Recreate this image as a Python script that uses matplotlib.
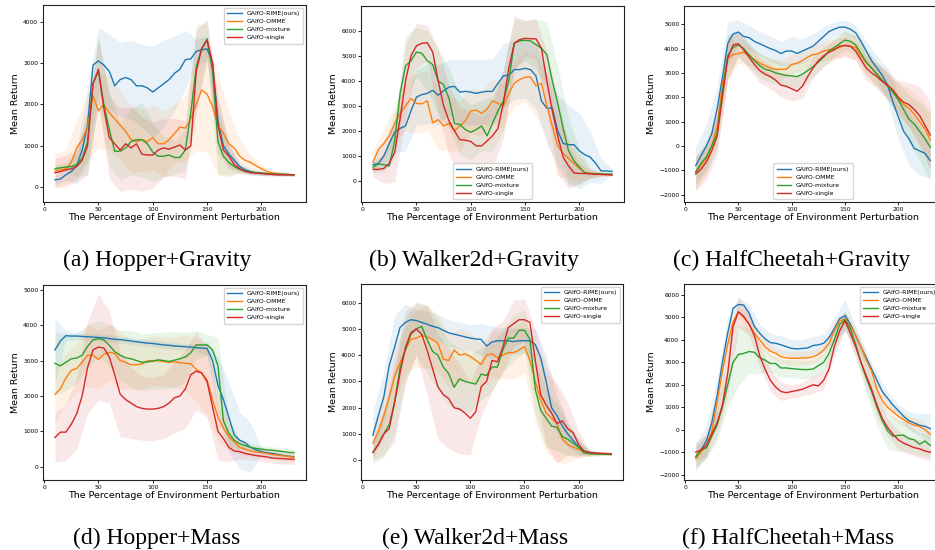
import numpy as np
import matplotlib
matplotlib.use('Agg')
import matplotlib.pyplot as plt

# perturbation levels (%) for the mean curves and for the shaded std bands
x = np.arange(10, 235, 5)
xb = np.arange(10, 235, 10)

methods = ['GAIfO-RIME(ours)', 'GAIfO-OMME', 'GAIfO-mixture', 'GAIfO-single']
colors = ['C0', 'C1', 'C2', 'C3']

# ---------------- Hopper + Gravity ----------------
hg_rime = [180, 200, 300, 380, 520, 900, 1500, 2950, 3050, 2950, 2800, 2450, 2600, 2650, 2600,
           2450, 2450, 2400, 2300, 2400, 2500, 2600, 2750, 2850, 3080, 3100, 3280, 3320, 3340, 3000,
           1600, 1000, 800, 650, 500, 420, 380, 350, 340, 330, 320, 310, 310, 305, 300]
hg_omme = [400, 420, 450, 600, 950, 1150, 1450, 2200, 1850, 2000, 1800, 1650, 1500, 1350, 1150,
           1100, 1150, 1100, 1200, 1050, 1050, 1150, 1300, 1450, 1430, 1650, 2000, 2350, 2250, 1950,
           1500, 1300, 1050, 950, 750, 650, 600, 520, 450, 380, 350, 330, 320, 310, 300]
hg_mix = [450, 470, 490, 500, 550, 700, 1100, 2500, 2800, 2000, 1400, 870, 870, 950, 1100,
          1150, 1150, 1050, 850, 750, 750, 780, 720, 720, 900, 1800, 2900, 3350, 3580, 2800,
          1100, 750, 600, 500, 430, 390, 370, 350, 340, 330, 320, 320, 310, 310, 300]
hg_single = [350, 380, 420, 450, 500, 650, 1000, 2500, 2850, 1900, 1200, 1050, 900, 1050, 950,
             1050, 800, 780, 780, 900, 950, 920, 970, 1020, 900, 1000, 2800, 3350, 3550, 3000,
             1500, 900, 750, 550, 450, 380, 350, 340, 330, 320, 310, 300, 300, 300, 300]
hg_rime_sd = [100, 150, 400, 900, 800, 900, 900, 950, 1000, 1100, 1050, 900, 700, 300, 300, 500,
              300, 100, 60, 50, 40, 30, 30]
hg_omme_sd = [400, 450, 700, 800, 900, 900, 800, 800, 750, 800, 800, 700, 800, 1100, 1400, 1200,
              800, 400, 200, 100, 60, 40, 30]
hg_mix_sd = [100, 100, 300, 800, 800, 900, 700, 800, 900, 700, 500, 400, 500, 1000, 400, 800,
             300, 100, 60, 50, 40, 30, 30]
hg_single_sd = [350, 350, 400, 700, 800, 1000, 1000, 1000, 900, 800, 700, 700, 700, 1000, 500, 700,
                300, 100, 60, 50, 40, 30, 30]

# ---------------- Walker2d + Gravity ----------------
wg_rime = [650, 700, 1000, 1500, 1950, 2100, 2200, 2800, 3350, 3450, 3500, 3620, 3430, 3600, 3750,
           3780, 3550, 3580, 3550, 3500, 3550, 3580, 3580, 3900, 4200, 4220, 4450, 4450, 4500, 4450,
           4200, 3200, 2900, 2920, 2000, 1500, 1450, 1450, 1200, 1050, 950, 700, 400, 400, 380]
wg_omme = [750, 1250, 1500, 1800, 2300, 2700, 3000, 3300, 3100, 3080, 3200, 2320, 2450, 2200, 2300,
           2000, 2200, 2400, 2800, 2830, 2700, 2870, 3200, 3100, 3000, 3500, 3900, 4050, 4150, 4150,
           3800, 3900, 3000, 2200, 1400, 1100, 900, 700, 500, 350, 300, 280, 270, 260, 250]
wg_mix = [550, 680, 650, 600, 1600, 3500, 4600, 4800, 5150, 5100, 4800, 4650, 4000, 3850, 3300,
          2300, 2250, 2050, 1950, 2050, 2200, 1800, 2300, 2800, 3200, 4000, 5500, 5600, 5620, 5600,
          5450, 5300, 5050, 4000, 3100, 2100, 1200, 800, 550, 320, 300, 290, 280, 280, 270]
wg_single = [470, 460, 500, 700, 1150, 2500, 4000, 5000, 5400, 5500, 5520, 5150, 4000, 3000, 2400,
             2000, 1650, 1630, 1580, 1400, 1400, 1600, 1800, 2100, 3100, 4500, 5500, 5650, 5700, 5680,
             5680, 5300, 4000, 2800, 1800, 950, 600, 320, 300, 300, 280, 270, 260, 250, 240]
wg_rime_sd = [300, 500, 800, 1000, 1100, 1200, 1200, 1100, 1300, 1300, 1300, 1300, 1300, 1200, 1200,
              1300, 1400, 1400, 1600, 1500, 1000, 500, 100]
wg_omme_sd = [500, 600, 700, 1000, 1200, 1200, 1200, 1100, 1000, 900, 900, 900, 900, 900, 1000, 1200,
              1300, 1200, 800, 500, 200, 100, 50]
wg_mix_sd = [200, 300, 700, 1200, 1000, 1200, 1300, 1200, 1200, 1100, 1000, 1100, 1200, 1000, 800,
             1000, 1300, 1500, 1300, 700, 200, 80, 50]
wg_single_sd = [300, 600, 1200, 1500, 900, 700, 1300, 1400, 1300, 1200, 1200, 1300, 1400, 1100, 700,
                800, 1200, 1500, 900, 400, 150, 60, 40]

# ---------------- HalfCheetah + Gravity ----------------
cg_rime = [-800, -400, 0, 500, 1500, 2800, 4200, 4600, 4680, 4500, 4450, 4300, 4200, 4100, 4000,
           3920, 3800, 3900, 3900, 3800, 3900, 4000, 4100, 4300, 4500, 4700, 4800, 4880, 4880, 4800,
           4650, 4300, 3900, 3500, 3200, 2900, 2500, 1800, 1200, 600, 300, -100, -200, -300, -600]
cg_omme = [-1100, -800, -500, 0, 800, 2500, 3600, 3750, 3800, 3850, 3700, 3550, 3400, 3300, 3200,
           3150, 3150, 3150, 3350, 3400, 3500, 3650, 3750, 3800, 3900, 3950, 4000, 4050, 4150, 4100,
           4050, 3700, 3400, 3200, 2950, 2700, 2500, 2250, 1950, 1700, 1550, 1300, 1000, 700, 250]
cg_mix = [-1050, -700, -450, 0, 500, 2200, 3700, 4050, 4150, 4000, 3750, 3500, 3300, 3150, 3100,
          3000, 2950, 2900, 2880, 2850, 2950, 3100, 3250, 3450, 3650, 3900, 4050, 4200, 4350, 4300,
          4150, 3800, 3450, 3200, 2950, 2700, 2450, 2200, 1900, 1500, 1100, 900, 600, 300, -50]
cg_single = [-1150, -950, -650, -200, 400, 2000, 3600, 4150, 4200, 3950, 3650, 3350, 3100, 2950, 2850,
             2700, 2500, 2450, 2350, 2250, 2450, 2850, 3200, 3500, 3700, 3850, 3950, 4100, 4120, 4100,
             3900, 3550, 3200, 3000, 2850, 2650, 2500, 2300, 2000, 1800, 1700, 1500, 1250, 850, 450]
cg_rime_sd = [800, 900, 900, 900, 500, 500, 500, 500, 500, 600, 500, 500, 400, 300, 300, 300,
              400, 500, 700, 900, 1100, 1000, 700]
cg_omme_sd = [700, 700, 700, 900, 400, 400, 400, 400, 400, 400, 400, 400, 400, 400, 500, 500,
              500, 500, 500, 600, 800, 1000, 1200]
cg_mix_sd = [600, 600, 700, 900, 500, 500, 500, 500, 500, 500, 500, 400, 400, 400, 400, 400,
             500, 500, 500, 700, 1000, 1200, 1400]
cg_single_sd = [700, 700, 800, 900, 500, 500, 500, 500, 500, 500, 500, 400, 400, 400, 400, 400,
                500, 500, 600, 700, 900, 1200, 1400]

# ---------------- Hopper + Mass ----------------
hm_rime = [3300, 3550, 3700, 3690, 3690, 3680, 3670, 3660, 3650, 3640, 3620, 3600, 3590, 3570, 3550,
           3530, 3510, 3490, 3480, 3460, 3440, 3430, 3410, 3400, 3390, 3380, 3360, 3350, 3340, 3000,
           2300, 1900, 1400, 900, 750, 680, 550, 480, 430, 400, 380, 350, 320, 300, 280]
hm_omme = [2050, 2200, 2500, 2720, 2780, 2950, 3150, 3150, 3030, 3180, 3230, 3200, 3000, 2950, 2880,
           2880, 2900, 2990, 3000, 2990, 2970, 2950, 2960, 2940, 2920, 2910, 2750, 2650, 2450, 1900,
           1400, 1100, 850, 700, 550, 500, 450, 420, 400, 380, 350, 330, 310, 290, 270]
hm_mix = [2920, 2850, 2950, 3050, 3070, 3150, 3400, 3580, 3620, 3580, 3430, 3250, 3150, 3080, 3050,
          3000, 2950, 2960, 2980, 3020, 3000, 2970, 3010, 3050, 3100, 3220, 3440, 3440, 3440, 3300,
          2850, 1300, 950, 750, 650, 600, 550, 520, 500, 480, 470, 450, 430, 410, 400]
hm_single = [830, 980, 980, 1200, 1500, 2000, 2800, 3300, 3380, 3350, 3100, 2600, 2050, 1900, 1800,
             1700, 1650, 1630, 1630, 1650, 1700, 1800, 1950, 2000, 2200, 2600, 2700, 2650, 2400, 1700,
             1000, 800, 550, 450, 430, 380, 350, 320, 300, 280, 250, 240, 230, 220, 210]
hm_rime_sd = [900, 150, 100, 100, 100, 100, 100, 100, 100, 100, 100, 100, 100, 100, 200, 800,
              1000, 800, 700, 100, 80, 60, 50]
hm_omme_sd = [800, 700, 700, 900, 800, 800, 800, 700, 700, 700, 700, 700, 800, 900, 1000, 700,
              400, 200, 150, 150, 150, 150, 150]
hm_mix_sd = [900, 800, 700, 600, 500, 600, 700, 800, 800, 800, 800, 800, 700, 400, 300, 800,
             400, 150, 100, 100, 100, 100, 100]
hm_single_sd = [700, 800, 1000, 1300, 1500, 1300, 1200, 1000, 900, 900, 900, 1000, 1100, 1100, 1000, 800,
                400, 200, 150, 150, 150, 150, 150]

# ---------------- Walker2d + Mass ----------------
wm_rime = [950, 1700, 2400, 3600, 4300, 5050, 5250, 5350, 5320, 5250, 5180, 5100, 5050, 4950, 4850,
           4800, 4750, 4700, 4650, 4620, 4600, 4350, 4500, 4550, 4550, 4550, 4520, 4550, 4550, 4550,
           4400, 3900, 3000, 2000, 1700, 1300, 1000, 750, 500, 350, 300, 270, 250, 240, 230]
wm_omme = [650, 1100, 1700, 2400, 3200, 3700, 4200, 4600, 4650, 4750, 4700, 4600, 4450, 3850, 3800,
           4200, 4000, 4050, 3950, 3800, 3650, 4000, 4050, 3900, 4000, 4100, 4100, 4200, 4330, 3800,
           3000, 2300, 1800, 1600, 1400, 800, 600, 500, 420, 300, 250, 240, 230, 230, 220]
wm_mix = [300, 600, 1000, 1350, 2200, 3500, 4200, 4800, 5000, 5100, 4600, 4150, 4000, 3550, 3300,
          2780, 3100, 3000, 2950, 2900, 3280, 3230, 3550, 3550, 4200, 4650, 4650, 4950, 4950, 4600,
          2700, 1900, 1600, 1300, 1250, 900, 800, 650, 500, 280, 250, 240, 230, 230, 220]
wm_single = [300, 600, 1000, 1200, 2200, 3300, 4300, 4850, 5000, 4800, 4200, 3500, 2800, 2500, 2350,
             2000, 1950, 1800, 1600, 1850, 2800, 3000, 3800, 3750, 4300, 5050, 5200, 5350, 5350, 5250,
             3800, 2500, 2100, 1800, 1400, 1500, 1200, 1050, 600, 350, 300, 280, 270, 260, 250]
wm_rime_sd = [900, 1000, 1200, 700, 400, 500, 500, 500, 500, 500, 600, 600, 500, 500, 500, 600,
              1000, 700, 500, 300, 100, 50, 30]
wm_omme_sd = [600, 800, 1000, 900, 1100, 1200, 1100, 1000, 1000, 900, 800, 900, 900, 1000, 1000, 1500,
              1500, 1500, 700, 300, 100, 50, 30]
wm_mix_sd = [400, 900, 1200, 1200, 1000, 1300, 1300, 1200, 1200, 1100, 1000, 900, 800, 900, 800, 1000,
             1100, 900, 600, 300, 100, 50, 30]
wm_single_sd = [300, 800, 1500, 1400, 1000, 1700, 2000, 1900, 1700, 1400, 1100, 1200, 1000, 900, 800, 1200,
                1500, 1500, 1000, 500, 100, 50, 30]

# ---------------- HalfCheetah + Mass ----------------
cm_rime = [-1200, -900, -500, 300, 1500, 3000, 4300, 5400, 5580, 5550, 5200, 4600, 4300, 4050, 3880,
           3850, 3780, 3700, 3620, 3600, 3620, 3640, 3750, 3780, 3850, 4100, 4500, 4950, 5080, 4700,
           4200, 3700, 3200, 2700, 2200, 1700, 1400, 1100, 850, 600, 400, 300, 200, 150, 50]
cm_omme = [-1300, -1000, -700, -100, 1200, 2600, 3800, 4800, 5250, 5000, 4700, 4300, 4000, 3700, 3500,
           3400, 3250, 3200, 3180, 3180, 3200, 3200, 3250, 3350, 3550, 3850, 4400, 4850, 4950, 4600,
           4200, 3700, 3100, 2600, 1800, 1300, 1000, 800, 600, 450, 300, 200, 150, 0, -200]
cm_mix = [-1200, -900, -800, -300, 200, 1000, 2000, 3000, 3350, 3400, 3480, 3450, 3200, 3100, 2950,
          2950, 2750, 2750, 2720, 2700, 2680, 2680, 2700, 2850, 3000, 3400, 4000, 4700, 4900, 4500,
          3800, 3000, 2300, 1700, 1000, 400, -50, -300, -250, -250, -400, -450, -650, -500, -700]
cm_single = [-1000, -900, -700, -200, 300, 1100, 2500, 4600, 5250, 5050, 4700, 4200, 3300, 2700, 2200,
             1900, 1700, 1650, 1700, 1750, 1800, 1900, 2000, 1950, 2200, 2700, 3700, 4400, 4850, 4300,
             3700, 3000, 2400, 1800, 1100, 500, 100, -200, -450, -600, -700, -800, -850, -950, -1000]
cm_rime_sd = [600, 700, 800, 700, 300, 400, 400, 400, 400, 400, 400, 400, 400, 500, 700, 400,
              300, 300, 300, 300, 400, 500, 700]
cm_omme_sd = [500, 500, 600, 700, 300, 400, 300, 300, 300, 300, 300, 300, 300, 400, 300, 400,
              300, 300, 300, 300, 300, 300, 300]
cm_mix_sd = [500, 500, 700, 1000, 1400, 1000, 700, 400, 400, 400, 400, 400, 400, 500, 400, 500,
             700, 800, 800, 700, 600, 500, 500]
cm_single_sd = [400, 500, 600, 1000, 700, 500, 500, 500, 400, 300, 300, 400, 400, 400, 400, 500,
                500, 500, 400, 400, 400, 400, 400]

panels = [
    ('(a) Hopper+Gravity', [hg_rime, hg_omme, hg_mix, hg_single],
     [hg_rime_sd, hg_omme_sd, hg_mix_sd, hg_single_sd], (-355, 4400), 'upper right'),
    ('(b) Walker2d+Gravity', [wg_rime, wg_omme, wg_mix, wg_single],
     [wg_rime_sd, wg_omme_sd, wg_mix_sd, wg_single_sd], (-840, 6990), 'lower center'),
    ('(c) HalfCheetah+Gravity', [cg_rime, cg_omme, cg_mix, cg_single],
     [cg_rime_sd, cg_omme_sd, cg_mix_sd, cg_single_sd], (-2300, 5750), 'lower center'),
    ('(d) Hopper+Mass', [hm_rime, hm_omme, hm_mix, hm_single],
     [hm_rime_sd, hm_omme_sd, hm_mix_sd, hm_single_sd], (-370, 5130), 'upper right'),
    ('(e) Walker2d+Mass', [wm_rime, wm_omme, wm_mix, wm_single],
     [wm_rime_sd, wm_omme_sd, wm_mix_sd, wm_single_sd], (-750, 6710), 'upper right'),
    ('(f) HalfCheetah+Mass', [cm_rime, cm_omme, cm_mix, cm_single],
     [cm_rime_sd, cm_omme_sd, cm_mix_sd, cm_single_sd], (-2240, 6490), 'upper right'),
]

# axes boxes in pixels: left, top, right, bottom
W, H = 935, 550
boxes = [(43, 5, 306, 202), (361, 6, 624, 202), (684, 6, 942, 202),
         (43, 285, 306, 480), (361, 284, 623, 480), (684, 284, 942, 480)]
caption_y = [260, 260, 260, 538, 538, 538]
caption_x = [157, 474, 792, 157, 475, 788]

fig = plt.figure(figsize=(W / 100, H / 100), dpi=100)

for k, (title, means, sds, ylim, loc) in enumerate(panels):
    l, t, r, b = boxes[k]
    ax = fig.add_axes([l / W, 1 - b / H, (r - l) / W, (b - t) / H])
    for m, sd, c, name in zip(means, sds, colors, methods):
        m = np.array(m, dtype=float)
        sd = np.array(sd, dtype=float)
        mb = m[::2]
        ax.fill_between(xb, mb - sd, mb + sd, color=c, alpha=0.1, linewidth=0)
        ax.plot(x, m, color=c, lw=1.0, label=name)
    ax.set_xlim(-1, 241)
    ax.set_ylim(*ylim)
    ax.set_xticks([0, 50, 100, 150, 200])
    ax.tick_params(labelsize=4.3, length=2, width=0.6, pad=1.5)
    ax.set_xlabel('The Percentage of Environment Perturbation', fontsize=6.8, labelpad=1)
    ax.set_ylabel('Mean Return', fontsize=6.8, labelpad=2)
    for s in ax.spines.values():
        s.set_linewidth(0.8)
        s.set_color('#222222')
    ax.legend(loc=loc, fontsize=4.4, handlelength=2.4, borderpad=0.5, labelspacing=0.45,
              framealpha=0.8, edgecolor='#cccccc')
    fig.text(caption_x[k] / W, 1 - caption_y[k] / H, title, ha='center', va='center',
             fontsize=17, family='Liberation Serif')

fig.savefig('out.png', dpi=100)
